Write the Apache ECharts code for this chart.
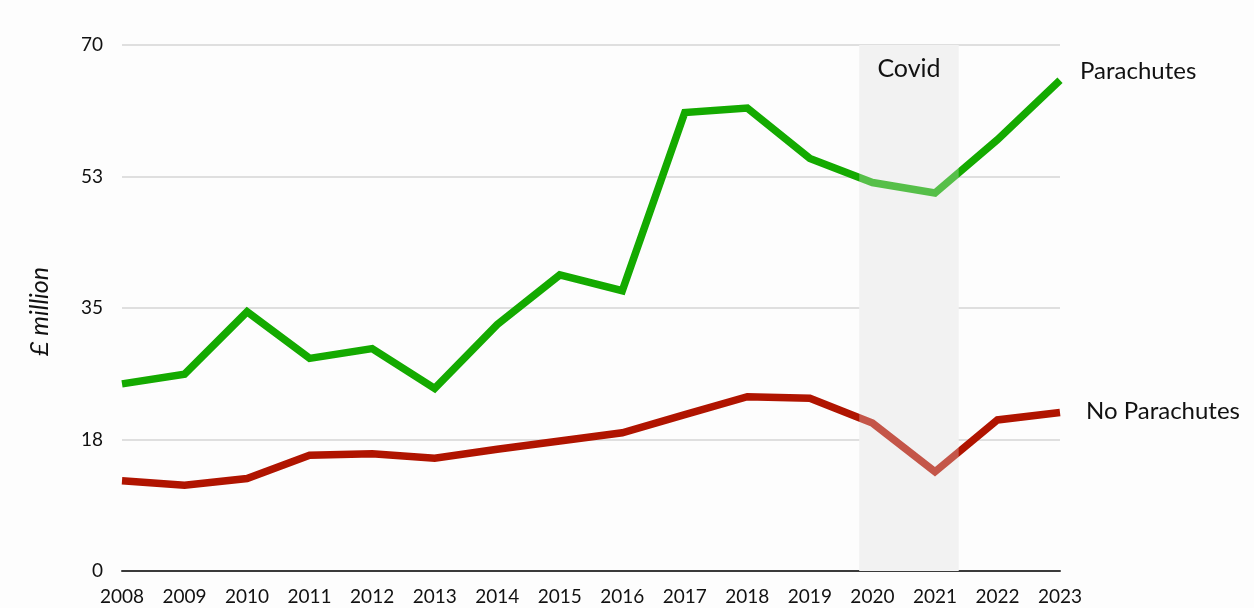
<!DOCTYPE html>
<html>
<head>
<meta charset="utf-8">
<script src="https://cdn.jsdelivr.net/npm/echarts@6/dist/echarts.min.js"></script>
<style>
  html, body { margin: 0; padding: 0; background: #fdfdfd; }
  #chart { width: 1254px; height: 608px; }
</style>
</head>
<body>
<div id="chart"></div>
<script>
// Years on the x axis
const years = [2008, 2009, 2010, 2011, 2012, 2013, 2014, 2015,
               2016, 2017, 2018, 2019, 2020, 2021, 2022, 2023];

// Average wage bill, £ million
const parachutes   = [24.9, 26.2, 34.5, 28.3, 29.6, 24.3, 32.8, 39.4,
                      37.3, 61.0, 61.6, 54.9, 51.7, 50.3, 57.4, 65.3];
const noParachutes = [12.0, 11.4, 12.3, 15.4, 15.6, 15.0, 16.2, 17.3,
                      18.4, 20.8, 23.2, 23.0, 19.7, 13.2, 20.1, 21.1];

// y axis: 0 to 70 in steps of 17.5, shown rounded
const yTicks = [0, 17.5, 35, 52.5, 70];

// Covid period band (in year units)
const covidStart = 2019.79;
const covidEnd = 2021.38;

const FONT = 'Lato, "Open Sans", sans-serif';

const chart = echarts.init(document.getElementById('chart'), null, { renderer: 'canvas' });

const pairs = (vals) => years.map((y, i) => [y, vals[i]]);

chart.setOption({
  backgroundColor: '#fdfdfd',
  animation: false,
  grid: { left: 122, right: 194, top: 45, bottom: 37 },
  xAxis: {
    type: 'value',
    min: years[0],
    max: years[years.length - 1],
    interval: 1,
    axisLine: { show: true, onZero: false, lineStyle: { color: '#3a3a3a', width: 2 } },
    axisTick: { show: false },
    splitLine: { show: false },
    axisLabel: {
      color: '#111',
      fontFamily: FONT,
      fontSize: 19,
      margin: 16,
      formatter: (v) => String(v)
    }
  },
  yAxis: {
    type: 'value',
    min: yTicks[0],
    max: yTicks[yTicks.length - 1],
    interval: yTicks[1] - yTicks[0],
    name: '£ million',
    nameLocation: 'middle',
    nameGap: 70,
    nameRotate: 90,
    nameTextStyle: { color: '#111', fontFamily: FONT, fontSize: 25, fontStyle: 'italic', padding: [0, 0, 0, -7] },
    axisLine: { show: false },
    axisTick: { show: false },
    splitLine: { lineStyle: { color: '#d4d4d4', width: 1.5 } },
    axisLabel: {
      color: '#111',
      fontFamily: FONT,
      fontSize: 19,
      margin: 19,
      formatter: (v) => String(Math.round(v))
    }
  },
  series: [
    {
      // background band for the Covid years, under the lines
      type: 'line',
      data: [],
      markArea: {
        silent: true,
        z: 1,
        itemStyle: { color: '#f2f2f2' },
        data: [[{ xAxis: covidStart }, { xAxis: covidEnd }]]
      }
    },
    {
      name: 'Parachutes',
      type: 'line',
      data: pairs(parachutes),
      z: 2,
      symbol: 'none',
      lineStyle: { color: '#14aa00', width: 7.5, join: 'miter' },
      endLabel: {
        show: true,
        formatter: 'Parachutes',
        color: '#111',
        fontFamily: FONT,
        fontSize: 24,
        distance: 20,
        offset: [0, -9]
      }
    },
    {
      name: 'No Parachutes',
      type: 'line',
      data: pairs(noParachutes),
      z: 2,
      symbol: 'none',
      lineStyle: { color: '#b01400', width: 7.5, join: 'miter' },
      endLabel: {
        show: true,
        formatter: 'No Parachutes',
        color: '#111',
        fontFamily: FONT,
        fontSize: 24,
        distance: 26,
        offset: [0, -1]
      }
    },
    {
      // translucent veil over the lines within the Covid band, with its title
      type: 'line',
      data: [],
      markArea: {
        silent: true,
        z: 10,
        itemStyle: { color: 'rgba(242,242,242,0.3)' },
        label: {
          show: true,
          position: 'insideTop',
          distance: 11,
          formatter: 'Covid',
          color: '#111',
          fontFamily: FONT,
          fontSize: 25
        },
        data: [[{ xAxis: covidStart }, { xAxis: covidEnd }]]
      }
    }
  ]
});
</script>
</body>
</html>
